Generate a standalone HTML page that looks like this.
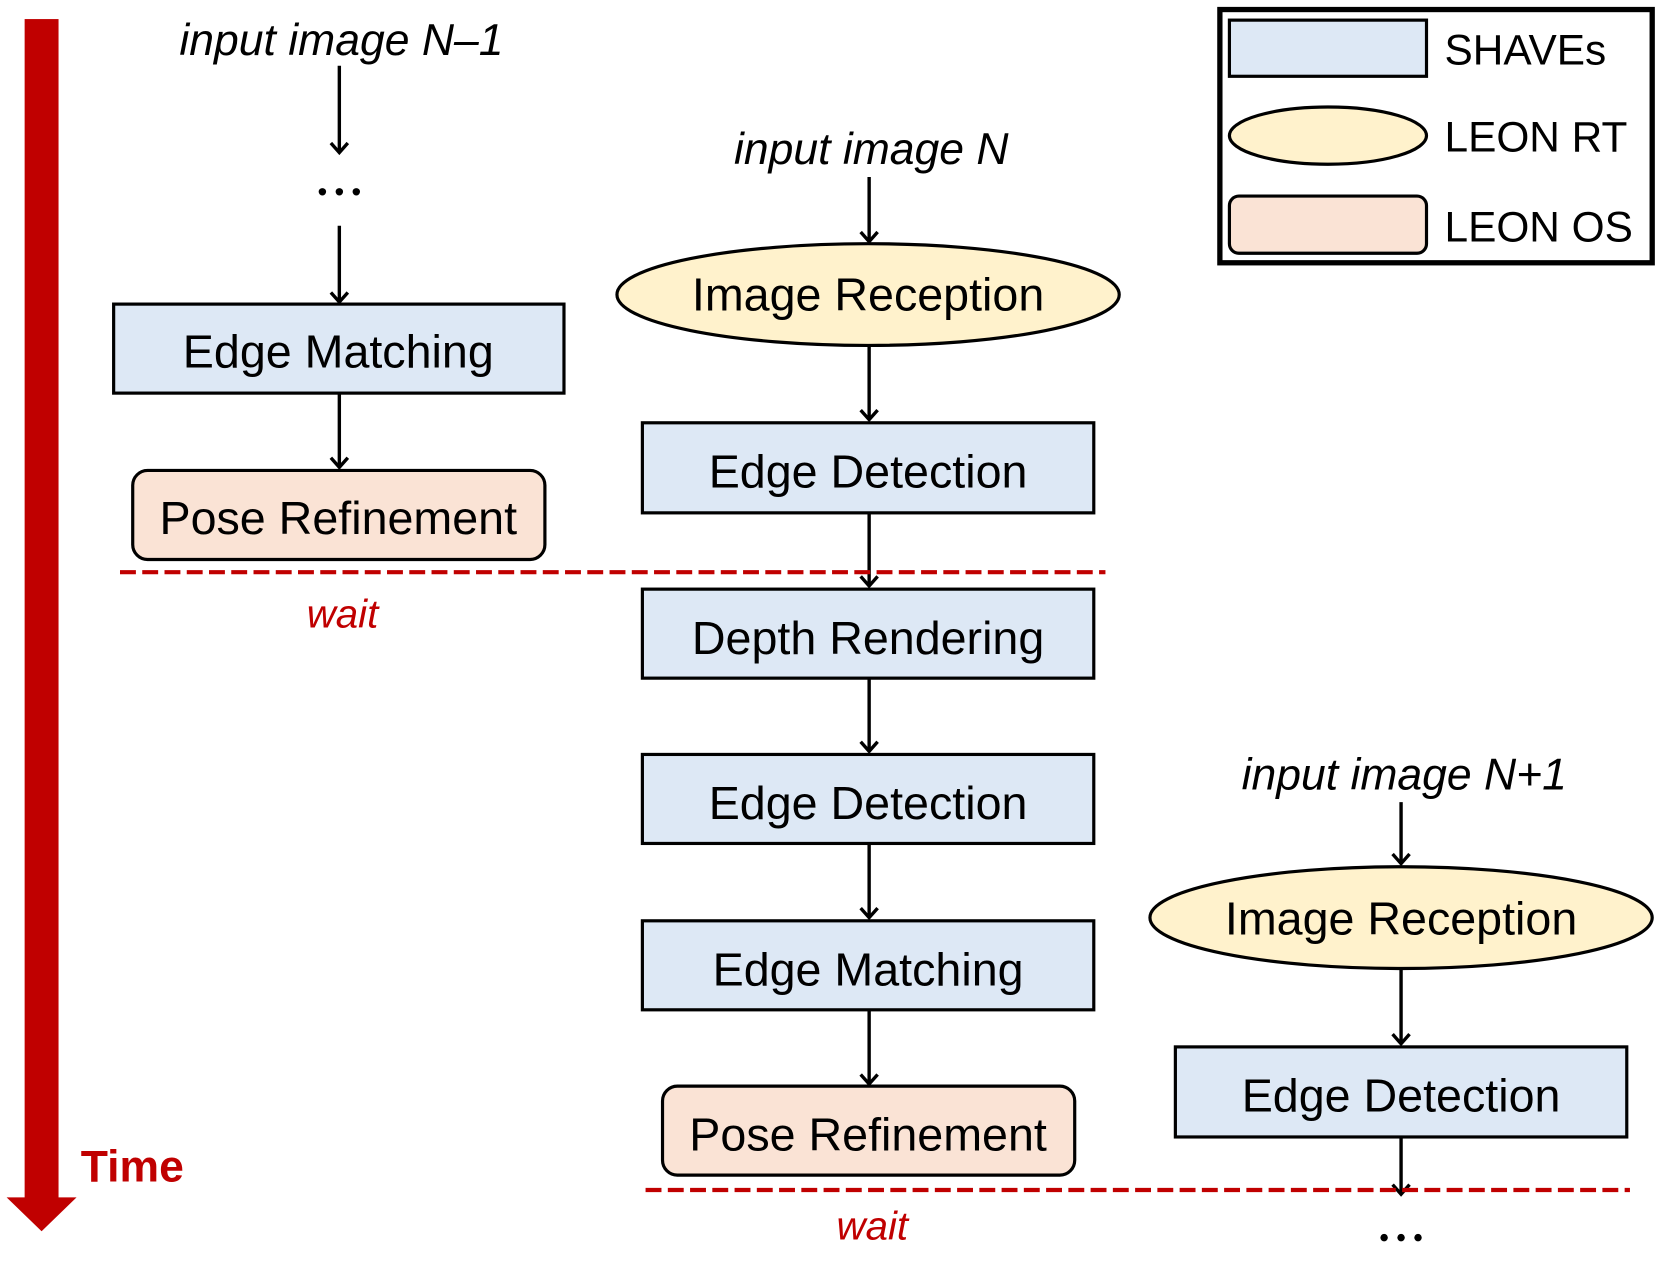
<!DOCTYPE html>
<html><head><meta charset="utf-8"><style>
html,body{margin:0;padding:0;background:#fff;}
svg{display:block;}
text{font-family:"Liberation Sans",sans-serif;}
</style></head><body>
<svg width="1662" height="1262" viewBox="0 0 1568 1191" xmlns="http://www.w3.org/2000/svg">
<defs>
<marker id="ah" markerWidth="22" markerHeight="22" refX="11" refY="11" orient="auto" markerUnits="userSpaceOnUse">
<path d="M2,3 L11,11 L2,19" fill="none" stroke="#000" stroke-width="3.2"/>
</marker>
</defs>
<rect x="23" y="18" width="32" height="1114" fill="#c00000"/>
<polygon points="6,1130 72,1130 39,1162" fill="#c00000"/>
<text x="76" y="1115" font-size="42" font-weight="bold" fill="#c00000">Time</text>

<g stroke="#000" stroke-width="3.2" fill="none">
<line x1="320" y1="62" x2="320" y2="144" marker-end="url(#ah)"/>
<line x1="320" y1="213" x2="320" y2="285" marker-end="url(#ah)"/>
<line x1="320" y1="372" x2="320" y2="441" marker-end="url(#ah)"/>
<line x1="820" y1="167" x2="820" y2="228" marker-end="url(#ah)"/>
<line x1="820" y1="326" x2="820" y2="396" marker-end="url(#ah)"/>
<line x1="820" y1="484" x2="820" y2="553" marker-end="url(#ah)"/>
<line x1="820" y1="640" x2="820" y2="709" marker-end="url(#ah)"/>
<line x1="820" y1="796" x2="820" y2="866" marker-end="url(#ah)"/>
<line x1="820" y1="953" x2="820" y2="1023" marker-end="url(#ah)"/>
<line x1="1322" y1="757" x2="1322" y2="815" marker-end="url(#ah)"/>
<line x1="1322" y1="914" x2="1322" y2="985" marker-end="url(#ah)"/>
<line x1="1322" y1="1073" x2="1322" y2="1127" marker-end="url(#ah)"/>
</g>

<g font-size="42" font-style="italic" text-anchor="middle">
<text x="322" y="52">input image N–1</text>
<text x="822" y="155">input image N</text>
<text x="1325" y="745">input image N+1</text>
</g>
<g fill="#000">
<circle cx="304" cy="181" r="3.5"/><circle cx="320" cy="181" r="3.5"/><circle cx="336" cy="181" r="3.5"/>
<circle cx="1306" cy="1168" r="3.5"/><circle cx="1322" cy="1168" r="3.5"/><circle cx="1338" cy="1168" r="3.5"/>
</g>

<g stroke="#000" stroke-width="3">
<rect x="107" y="287" width="425" height="84" fill="#dde8f5"/>
<rect x="125" y="444" width="389" height="84" rx="14" fill="#fae3d5"/>
<ellipse cx="819" cy="278" rx="237" ry="48" fill="#fff2cc"/>
<rect x="606" y="399" width="426" height="85" fill="#dde8f5"/>
<rect x="606" y="556" width="426" height="84" fill="#dde8f5"/>
<rect x="606" y="712" width="426" height="84" fill="#dde8f5"/>
<rect x="606" y="869" width="426" height="84" fill="#dde8f5"/>
<rect x="625" y="1025" width="389" height="84" rx="14" fill="#fae3d5"/>
<ellipse cx="1322" cy="866" rx="237" ry="48" fill="#fff2cc"/>
<rect x="1109" y="988" width="426" height="85" fill="#dde8f5"/>
</g>

<g font-size="44" text-anchor="middle">
<text x="319" y="347">Edge Matching</text>
<text x="319" y="504">Pose Refinement</text>
<text x="819" y="293">Image Reception</text>
<text x="819" y="460">Edge Detection</text>
<text x="819" y="617">Depth Rendering</text>
<text x="819" y="773">Edge Detection</text>
<text x="819" y="930">Edge Matching</text>
<text x="819" y="1086">Pose Refinement</text>
<text x="1322" y="882">Image Reception</text>
<text x="1322" y="1049">Edge Detection</text>
</g>

<g stroke="#c00000" stroke-width="4" stroke-dasharray="15,6">
<line x1="113" y1="540" x2="1043" y2="540"/>
<line x1="609" y1="1123" x2="1538" y2="1123"/>
</g>
<g font-size="38" font-style="italic" fill="#c00000" text-anchor="middle">
<text x="323" y="592">wait</text>
<text x="823" y="1170">wait</text>
</g>

<rect x="1151" y="9" width="408" height="239" fill="#fff" stroke="#000" stroke-width="5"/>
<g stroke="#000" stroke-width="3">
<rect x="1160" y="19" width="186" height="53" fill="#dde8f5"/>
<ellipse cx="1253" cy="128" rx="93" ry="27" fill="#fff2cc"/>
<rect x="1160" y="185" width="186" height="54" rx="9" fill="#fae3d5"/>
</g>
<g font-size="40">
<text x="1363" y="61">SHAVEs</text>
<text x="1363" y="143">LEON RT</text>
<text x="1363" y="228">LEON OS</text>
</g>
</svg>
</body></html>
